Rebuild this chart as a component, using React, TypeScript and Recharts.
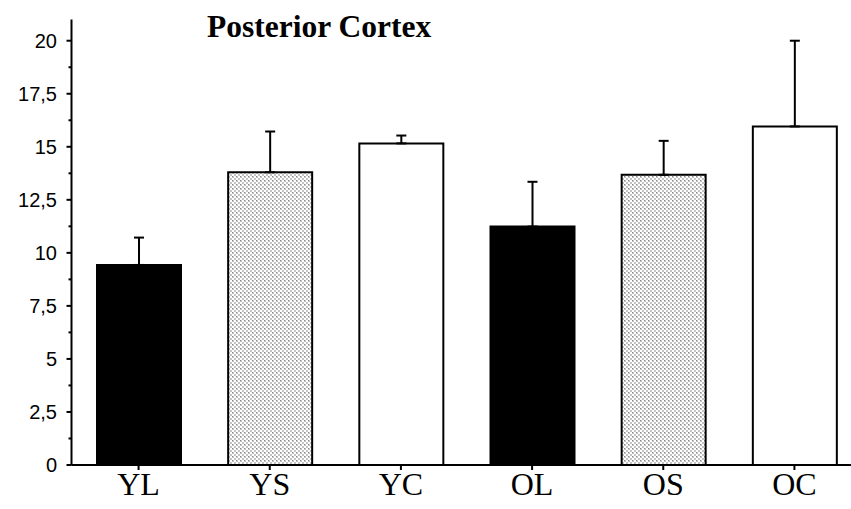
import { BarChart, Bar, XAxis, YAxis, ErrorBar, Cell } from "recharts";

// groups and their means / upper SEM
const groups = ["YL", "YS", "YC", "OL", "OS", "OC"];
const means = [9.43, 13.8, 15.16, 11.24, 13.68, 15.96];
const errUp = [1.29, 1.92, 0.37, 2.11, 1.6, 4.04];
const fills = ["#000000", "url(#dots)", "#ffffff", "#000000", "url(#dots)", "#ffffff"];

const yTicks = [0, 1.25, 2.5, 3.75, 5, 6.25, 7.5, 8.75, 10, 11.25, 12.5, 13.75, 15, 16.25, 17.5, 18.75, 20];

const data = groups.map((g, i) => ({
  group: g,
  mean: means[i],
  err: [0, errUp[i]],
}));

const AXIS_X = 71.5;

const YTick = (props: any) => {
  const { y, payload } = props;
  const v = payload.value as number;
  const major = Math.abs(v / 2.5 - Math.round(v / 2.5)) < 1e-6;
  return (
    <g>
      <line
        x1={AXIS_X}
        x2={major ? AXIS_X - 5 : AXIS_X - 3}
        y1={y}
        y2={y}
        stroke="#000"
        strokeWidth={2}
      />
      {major && (
        <text
          x={AXIS_X - 14.5}
          y={y}
          dy="0.36em"
          textAnchor="end"
          fontFamily="'Liberation Sans', Arial, sans-serif"
          fontSize={20}
          fill="#000"
        >
          {String(v).replace(".", ",")}
        </text>
      )}
    </g>
  );
};

export default function App() {
  return (
    <div
      style={{
        position: "absolute",
        left: 0,
        top: 0,
        width: 851,
        height: 509,
        overflow: "hidden",
        background: "#fff",
      }}
    >
      <BarChart
        width={872}
        height={509}
        data={data}
        margin={{ top: 19.5, right: 12, left: 0, bottom: 0 }}
      >
        <defs>
          <pattern id="dots" width="4" height="4" patternUnits="userSpaceOnUse">
            <rect width="4" height="4" fill="#ffffff" />
            <rect x="0" y="0" width="2" height="2" fill="#c4c4c4" />
            <rect x="2" y="2" width="2" height="2" fill="#c4c4c4" />
            <rect x="0" y="0" width="1" height="1" fill="#8a8a8a" />
          </pattern>
        </defs>
        <text
          x={207}
          y={37}
          fontFamily="'Liberation Serif', 'Times New Roman', serif"
          fontWeight="bold"
          fontSize={31.5}
          fill="#000"
        >
          Posterior Cortex
        </text>
        <XAxis
          dataKey="group"
          height={44}
          padding={{ left: 1.5, right: 0 }}
          axisLine={{ stroke: "#000", strokeWidth: 2 }}
          tickLine={{ stroke: "#000", strokeWidth: 2 }}
          tickSize={5}
          tick={{
            fill: "#000",
            fontSize: 32,
            fontFamily: "'Liberation Serif', 'Times New Roman', serif",
          }}
          tickMargin={2}
        />
        <YAxis
          type="number"
          domain={[0, 21]}
          ticks={yTicks}
          interval={0}
          width={AXIS_X}
          axisLine={{ stroke: "#000", strokeWidth: 2 }}
          tickLine={false}
          tick={<YTick />}
        />
        <Bar
          dataKey="mean"
          barSize={84}
          stroke="#000"
          strokeWidth={2}
          isAnimationActive={false}
        >
          {data.map((d, i) => (
            <Cell key={d.group} fill={fills[i]} />
          ))}
          <ErrorBar
            dataKey="err"
            direction="y"
            width={5}
            stroke="#000"
            strokeWidth={2}
            isAnimationActive={false}
          />
        </Bar>
      </BarChart>
    </div>
  );
}
